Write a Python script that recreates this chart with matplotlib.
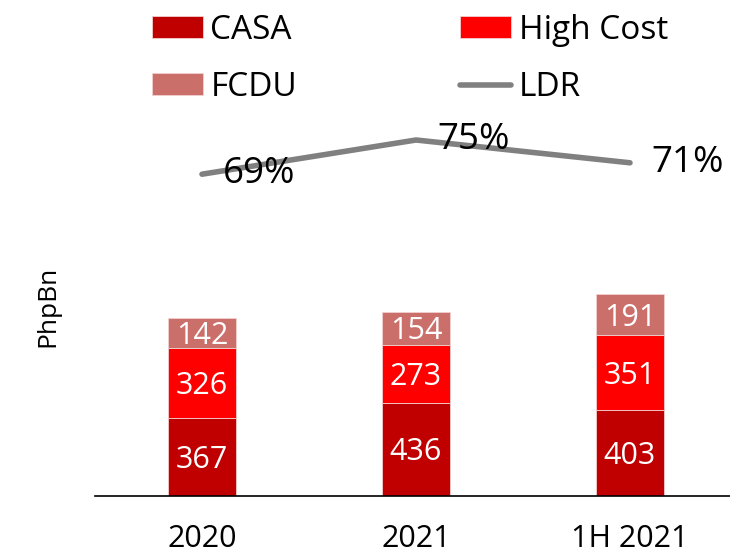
import numpy as np
import matplotlib.pyplot as plt

plt.rcParams['font.family'] = ['Open Sans', 'DejaVu Sans']

periods = ["2020", "2021", "1H 2021"]
casa = [367, 436, 403]
high_cost = [326, 273, 351]
fcdu = [142, 154, 191]
ldr = [0.69, 0.75, 0.71]

c_casa = "#C00000"
c_high = "#FF0000"
c_fcdu = "#CB6F6B"
c_ldr = "#808080"

fig = plt.figure(figsize=(7.3, 5.55), dpi=100)
ax = fig.add_axes([95/730, 59/555, 642/730, 496/555])

x = np.arange(len(periods))
w = 0.32
b1 = ax.bar(x, casa, w, color=c_casa, edgecolor="#F3D0D0", linewidth=0.6, label="CASA")
b2 = ax.bar(x, high_cost, w, bottom=casa, color=c_high, edgecolor="#F3D0D0", linewidth=0.6, label="High Cost")
bot3 = np.array(casa) + np.array(high_cost)
b3 = ax.bar(x, fcdu, w, bottom=bot3, color=c_fcdu, edgecolor="#F3D0D0", linewidth=0.6, label="FCDU")

# labels in the middle of each segment, nudged down a bit like the original
for bars, vals in ((b1, casa), (b2, high_cost), (b3, fcdu)):
    for r, v in zip(bars, vals):
        ax.annotate(str(v), (r.get_x() + r.get_width()/2, r.get_y() + r.get_height()/2),
                    xytext=(0, -3), textcoords="offset pixels",
                    ha="center", va="center", color="white", fontsize=22)

ax.set_xlim(-0.5, 2.5)
ax.set_ylim(0, 496/0.2134)
ax.set_xticks(x)
ax.set_xticklabels(periods, fontsize=22)
ax.tick_params(axis="x", length=0, pad=20)
ax.set_yticks([])
for s in ["top", "right", "left"]:
    ax.spines[s].set_visible(False)
ax.spines["bottom"].set_linewidth(1.2)
ax.set_ylabel("PhpBn", fontsize=19)
ax.yaxis.set_label_coords(-35/642, 190/496)

# LDR on its own scale, no visible axis
ax2 = ax.twinx()
ax2.set_position(ax.get_position())
ax2.set_ylim(0.75 - 356/570, 0.75 + 140/570)
ax2.axis("off")
line, = ax2.plot(x, ldr, color=c_ldr, lw=4, solid_capstyle="round", label="LDR")
for xi, v in zip(x, ldr):
    ax2.annotate(f"{v:.0%}", (xi, v), xytext=(21, 0), textcoords="offset pixels",
                 ha="left", va="center", fontsize=26.5)

handles = [b1, b3, b2, line]
names = ["CASA", "FCDU", "High Cost", "LDR"]
fig.legend(handles, names,
           ncol=2, loc="upper left", bbox_to_anchor=(152/730, 1 - 14/555), frameon=False,
           fontsize=24, handlelength=1.53, handleheight=0.62, handletextpad=0.22,
           columnspacing=4.9, labelspacing=0.72, borderpad=0, borderaxespad=0)

fig.savefig("out.png", dpi=100)
